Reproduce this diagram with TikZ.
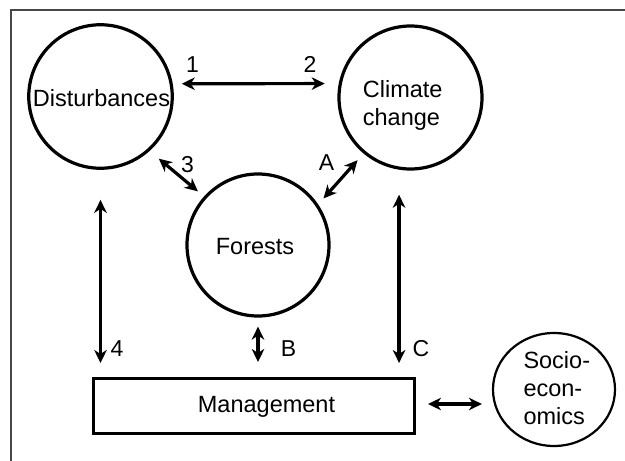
\documentclass[tikz,border=0pt]{standalone}
\usepackage{fontspec}
\setmainfont{Liberation Sans}
\usetikzlibrary{arrows.meta,shapes.geometric,calc}
\begin{document}
\begin{tikzpicture}[x=1pt,y=-1pt,
  ring/.style={circle,draw,line width=3.2pt,inner sep=0pt},
  txt/.style={font=\fontsize{23.5}{28}\selectfont,inner sep=0pt},
  lab/.style={font=\fontsize{23}{26}\selectfont,inner sep=0pt,anchor=base},
  tipA/.tip={Stealth[length=13pt,width=12.5pt,inset=4pt]},
  dbl/.style={line width=3.2pt,tipA-tipA},
]
\useasboundingbox (0,0) rectangle (625,461);
% frame
\draw[line width=1.6pt,black!72] (626,10) coordinate (fr1) -- (11,10) coordinate (fr2) -- (11,462) coordinate (fr3);

% shapes
\node[ring,minimum size=143.5pt] (dist) at (100.5,96.5) {};
\node[ring,minimum size=143pt] (clim) at (410.5,97.5) {};
\node[ring,minimum size=142pt] (for) at (258,245) {};
\node[draw,line width=3pt,rectangle,inner sep=0pt,minimum width=321pt,minimum height=55pt] (mgmt) at (254,406) {};
\node[ellipse,draw,line width=2.2pt,inner sep=0pt,minimum width=122pt,minimum height=113pt] (socio) at (554,389.5) {};

% texts
\node[txt,anchor=base] (distT) at (101.5,106) {Disturbances};
\node[txt,anchor=base west,align=left] (climT) at (362.7,125) {Climate\\change};
\node[txt,anchor=base] (forT) at (255,254) {Forests};
\node[txt,anchor=base] (mgmtT) at (266.5,412) {Management};
\node[txt,anchor=base west,align=left] (socioT) at (523.3,424.3) {Socio-\\econ-\\omics};

% connectors
\draw[dbl,shorten <=9pt,shorten >=14pt] (dist.10) -- (clim.169);
\draw[dbl,shorten <=12pt,shorten >=8pt] (dist.-48) -- (for.138);
\draw[dbl,shorten <=8pt,shorten >=9pt] (for.34) -- (clim.230);
\draw[dbl,shorten <=30pt,shorten >=14pt] (dist.south) -- (dist.south |- mgmt.north);
\draw[dbl,shorten <=9pt,shorten >=15pt] (for.south) -- (for.south |- mgmt.north);
\draw[dbl,shorten <=25pt,shorten >=14pt] (clim.-99) -- (clim.-99 |- mgmt.north);
\coordinate (mE) at ([yshift=2pt]mgmt.east);
\draw[dbl,shorten <=12pt,shorten >=10pt] (mE) -- (mE -| socio.west);

% labels
\node[lab] (l1) at (192.5,72) {1};
\node[lab] (l2) at (310,72) {2};
\node[lab] (l3) at (187.5,172) {3};
\node[lab] (lA) at (326.5,170.7) {A};
\node[lab] (l4) at (117,356.7) {4};
\node[lab] (lB) at (288.5,356.7) {B};
\node[lab] (lC) at (421,356.7) {C};
\end{tikzpicture}
\end{document}
